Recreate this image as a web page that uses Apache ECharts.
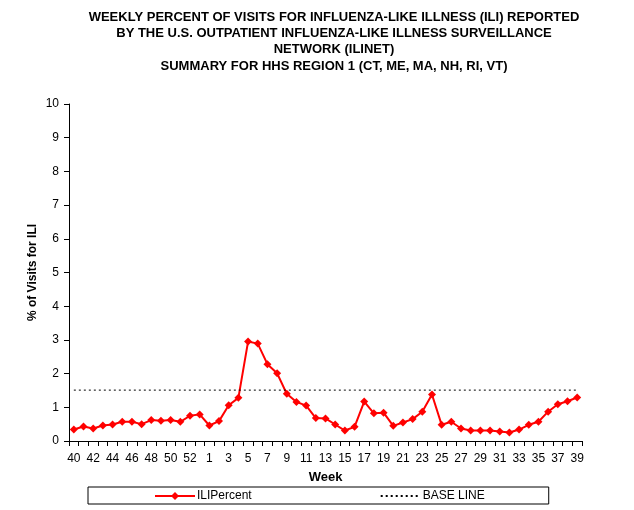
<!DOCTYPE html>
<html>
<head>
    <meta charset="UTF-8">
    <title>ILI Region 1</title>
    <script src="https://cdn.jsdelivr.net/npm/echarts@6/dist/echarts.min.js"></script>
    <style>
        body { margin: 0; background: #fff; }
        #main { width: 634px; height: 510px; }
    </style>
</head>
<body>
<div id="main"></div>
<script type="text/javascript">
    // weeks 40..53 then 1..39
    var weeks = ['40','41','42','43','44','45','46','47','48','49','50','51','52','53',
        '1','2','3','4','5','6','7','8','9','10','11','12','13','14','15','16','17','18','19','20',
        '21','22','23','24','25','26','27','28','29','30','31','32','33','34','35','36','37','38','39'];
    var iliPercent = [0.34, 0.43, 0.37, 0.46, 0.49, 0.57, 0.57, 0.50, 0.62, 0.60, 0.62, 0.57, 0.75, 0.79,
        0.46, 0.59, 1.06, 1.28, 2.95, 2.89, 2.28, 2.01, 1.40, 1.16, 1.05, 0.68, 0.67, 0.49, 0.31, 0.42,
        1.17, 0.82, 0.84, 0.45, 0.55, 0.65, 0.87, 1.38, 0.48, 0.57, 0.37, 0.31, 0.31, 0.31, 0.28, 0.25,
        0.34, 0.48, 0.57, 0.87, 1.09, 1.18, 1.29];
    var baseLineValue = 1.51;
    var baseLine = weeks.map(function () { return baseLineValue; });

    var chart = echarts.init(document.getElementById('main'));
    var font = 'Liberation Sans, Arial, sans-serif';
    var option = {
        animation: false,
        backgroundColor: '#fff',
        title: {
            text: 'WEEKLY PERCENT OF VISITS FOR INFLUENZA-LIKE ILLNESS (ILI) REPORTED\n' +
                'BY THE U.S. OUTPATIENT INFLUENZA-LIKE ILLNESS SURVEILLANCE\n' +
                'NETWORK (ILINET)\nSUMMARY FOR HHS REGION 1 (CT, ME, MA, NH, RI, VT)',
            left: 329,
            textAlign: 'center',
            top: 4,
            textStyle: { fontFamily: font, fontSize: 13, fontWeight: 'bold', color: '#000', lineHeight: 16.3 }
        },
        legend: {
            left: 88,
            top: 487,
            data: [
                { name: 'ILIPercent' },
                { name: 'BASE LINE', itemStyle: { opacity: 0 } }
            ],
            borderColor: '#000',
            borderWidth: 1,
            padding: [3, 64, 2, 66],
            itemGap: 128,
            itemWidth: 40,
            itemHeight: 10,
            textStyle: { fontFamily: font, fontSize: 12, color: '#000', padding: [0, 0, 0, -3] }
        },
        grid: { left: 69, right: 52, top: 104, bottom: 69 },
        xAxis: {
            type: 'category',
            data: weeks,
            name: 'Week',
            nameLocation: 'middle',
            nameGap: 30,
            nameMoveOverlap: false,
            nameTextStyle: { fontFamily: font, fontSize: 13, fontWeight: 'bold', color: '#000' },
            axisLine: { lineStyle: { color: '#000', width: 1 } },
            axisTick: { show: true, interval: 0, length: 5, lineStyle: { color: '#000' } },
            axisLabel: { interval: 1, margin: 12, fontFamily: font, fontSize: 12, color: '#000' },
            splitLine: { show: false }
        },
        yAxis: {
            type: 'value',
            min: 0,
            max: 10,
            interval: 1,
            name: '% of Visits for ILI',
            nameLocation: 'middle',
            nameGap: 30,
            nameMoveOverlap: false,
            nameTextStyle: { fontFamily: font, fontSize: 12, fontWeight: 'bold', color: '#000' },
            axisLine: { show: true, lineStyle: { color: '#000', width: 1 } },
            axisTick: { show: true, length: 5, lineStyle: { color: '#000' } },
            axisLabel: { margin: 10, fontFamily: font, fontSize: 12, color: '#000' },
            splitLine: { show: false }
        },
        series: [
            {
                name: 'ILIPercent',
                type: 'line',
                data: iliPercent,
                symbol: 'diamond',
                symbolSize: 8,
                showAllSymbol: true,
                itemStyle: { color: '#ff0000' },
                lineStyle: { color: '#ff0000', width: 2 }
            },
            {
                name: 'BASE LINE',
                type: 'line',
                data: baseLine,
                symbol: 'none',
                itemStyle: { color: '#000' },
                lineStyle: { color: '#000', width: 1, type: [2, 3] }
            }
        ]
    };
    chart.setOption(option);
</script>
</body>
</html>
